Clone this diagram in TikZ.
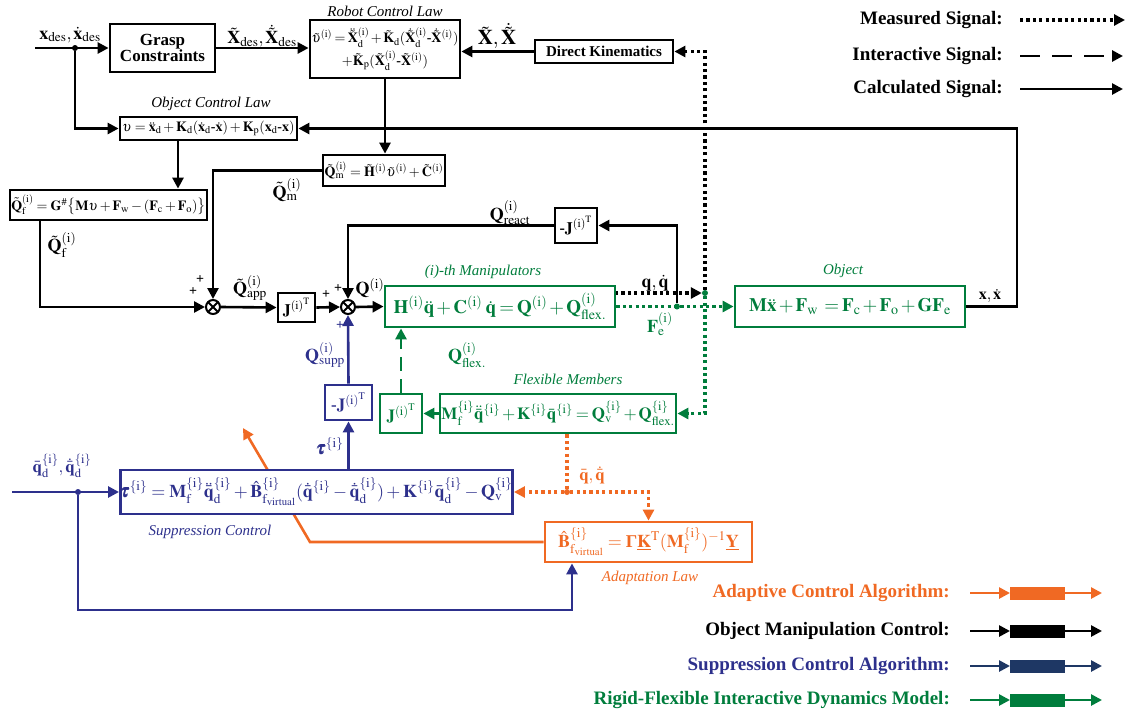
\documentclass[tikz,border=0pt]{standalone}
\usepackage{amsmath}
\usepackage{mathptmx}
\usepackage{fontspec}
\setmainfont{Liberation Serif}
\usetikzlibrary{arrows.meta,calc,backgrounds}
\definecolor{grn}{RGB}{0,125,60}
\definecolor{blu}{RGB}{45,48,140}
\definecolor{org}{RGB}{240,105,35}
\definecolor{dblu}{RGB}{30,55,100}
\newcommand{\Si}{^{(\mathrm{i})}}
\newcommand{\Ci}{^{\{\mathrm{i}\}}}
\newcommand{\B}[1]{\mathbf{#1}}
\newcommand{\JT}{\B J^{(\mathrm{i})^{\mathrm{T}}}}
\newcommand{\fs}[1]{\fontsize{#1}{#1}\selectfont}
\newcommand{\tight}{\medmuskip=2mu plus 1mu\thickmuskip=3mu plus 1mu}
\begin{document}
\begin{tikzpicture}[x=1pt,y=-1pt,
  box/.style={draw,line width=2.8pt,inner sep=1pt,font=\bfseries\fs{14},fill=white},
  ttl/.style={font=\itshape\fs{15}},
  lbl/.style={font=\bfseries\fs{16},inner sep=0pt},
  ln/.style={line width=2.6pt},
  tip/.style={-{Triangle[length=11pt,width=11pt]}},
  arr/.style={ln,tip},
  mdot/.style={line width=3.2pt,dash pattern=on 3.2pt off 3.2pt},
  sumn/.style={circle,draw,line width=2pt,minimum size=14pt,inner sep=0pt,fill=white,
    path picture={\draw[line width=1.8pt] (path picture bounding box.north west)--(path picture bounding box.south east) (path picture bounding box.north east)--(path picture bounding box.south west);}},
  jdot/.style={circle,fill,inner sep=0pt,minimum size=6pt},
  pls/.style={font=\bfseries\fs{14},inner sep=0pt},
  leg/.style={font=\bfseries\fs{19},anchor=east,inner sep=0pt}
]
\useasboundingbox (0,0) rectangle (1132,715);

% ---------- top boxes ----------
\node[box,minimum width=105pt,minimum height=48pt,align=center,font=\bfseries\fs{17}] (grasp) at (162.5,48) {Grasp\\[-1pt]Constraints};
\node[box,minimum width=150pt,minimum height=58pt,align=center] (robot) at (385,49)
 {$\tight\tilde{\upsilon}\Si=\ddot{\tilde{\B X}}\Si_{\mathrm d}+\tilde{\B K}_{\mathrm d}(\dot{\tilde{\B X}}\Si_{\mathrm d}\mbox{-}\dot{\tilde{\B X}}\Si)$\\[2pt]
  $\tight+\tilde{\B K}_{\mathrm p}(\tilde{\B X}\Si_{\mathrm d}\mbox{-}\tilde{\B X}\Si)$};
\node[ttl] at (385,11) {Robot Control Law};
\node[box,minimum width=138pt,minimum height=23pt,font=\bfseries\fs{15}] (dk) at (604,51.5) {Direct Kinematics};

\node[box,minimum width=177pt,minimum height=23pt,inner sep=0pt] (ocl) at (208.5,128.5)
 {$\upsilon=\ddot{\B x}_{\mathrm d}+\B K_{\mathrm d}(\dot{\B x}_{\mathrm d}\mbox{-}\dot{\B x})+\B K_{\mathrm p}(\B x_{\mathrm d}\mbox{-}\B x)$};
\node[ttl] at (211,104) {Object Control Law};
\node[box,minimum width=197pt,minimum height=30pt,inner sep=0pt] (qf) at (108.5,205)
 {$\tilde{\B Q}\Si_{\mathrm f}=\B G^{\#}\bigl\{\B M\upsilon+\B F_{\mathrm w}-(\B F_{\mathrm c}+\B F_{\mathrm o})\bigr\}$};
\node[box,minimum width=122pt,minimum height=31pt] (qm) at (384,170.5)
 {$\tilde{\B Q}\Si_{\mathrm m}=\tilde{\B H}\Si\tilde{\upsilon}\Si+\tilde{\B C}\Si$};

% ---------- middle ----------
\node[sumn] (s1) at (213,307) {};
\node[sumn] (s2) at (348,307) {};
\node[box,minimum width=37pt,minimum height=29pt,font=\bfseries\fs{16}] (jt) at (296.5,307.5) {$\JT$};
\node[box,draw=grn,text=grn,minimum width=230pt,minimum height=41pt,font=\bfseries\fs{19}] (manip) at (500,306.5)
 {$\tight\B H\Si\ddot{\B q}+\B C\Si\;\dot{\B q}=\B Q\Si+\B Q\Si_{\mathrm{flex.}}$};
\node[ttl,text=grn] at (483,272) {(i)-th Manipulators};
\node[box,minimum width=42pt,minimum height=35pt,font=\bfseries\fs{16}] (mjr) at (576,225.5) {$\mbox{-}\JT$};
\node[box,draw=grn,text=grn,minimum width=230pt,minimum height=41pt,font=\bfseries\fs{19}] (obj) at (850,306.5)
 {$\tight\B M\ddot{\B x}+\B F_{\mathrm w}\;=\B F_{\mathrm c}+\B F_{\mathrm o}+\B G\B F_{\mathrm e}$};
\node[ttl,text=grn] at (843,271) {Object};

\node[box,draw=grn,text=grn,minimum width=236pt,minimum height=39pt,font=\bfseries\fs{17}] (flex) at (558,413.5)
 {$\tight\B M\Ci_{\mathrm f}\ddot{\bar{\B q}}\Ci+\B K\Ci\bar{\B q}\Ci=\B Q\Ci_{\mathrm v}+\B Q\Ci_{\mathrm{flex.}}$};
\node[ttl,text=grn] at (568,379) {Flexible Members};
\node[box,draw=grn,text=grn,minimum width=42pt,minimum height=39pt,font=\bfseries\fs{17}] (jf) at (401,413.5) {$\JT$};
\node[box,draw=blu,text=blu,minimum width=47pt,minimum height=35pt,font=\bfseries\fs{17}] (mjs) at (348.5,402.5) {$\mbox{-}\JT$};

\node[box,draw=blu,text=blu,minimum width=383pt,minimum height=44pt,inner sep=0pt,font=\bfseries\fs{18}] (supp) at (316.5,492)
 {$\pmb{\tau}\Ci=\B M\Ci_{\mathrm f}\ddot{\bar{\B q}}\Ci_{\mathrm d}+\hat{\B B}\Ci_{\mathrm f_{\mathrm{virtual}}}(\dot{\bar{\B q}}\Ci-\dot{\bar{\B q}}\Ci_{\mathrm d})+\B K\Ci\bar{\B q}\Ci_{\mathrm d}-\B Q\Ci_{\mathrm v}$};
\node[ttl,text=blu] at (210,532) {Suppression Control};
\node[box,draw=org,text=org,minimum width=207pt,minimum height=40pt,font=\bfseries\fs{18}] (adapt) at (648.5,542)
 {$\hat{\B B}\Ci_{\mathrm f_{\mathrm{virtual}}}=\mbox{\bfseries Γ}\underline{\B K}^{\mathrm T}(\B M\Ci_{\mathrm f})^{-1}\underline{\B Y}$};
\node[ttl,text=org] at (650,578) {Adaptation Law};

% ---------- coordinates ----------
\coordinate (in1) at (35,48);
\node[jdot] (j1) at (75,48) {};
\coordinate (oc) at (1017,128.5);
\coordinate (mq) at (615,293);
\node[jdot,fill=grn] (d1) at (705,293) {};
\node[jdot,fill=grn] (d2) at (677,306.5) {};
\coordinate (bin) at (12,492);
\node[jdot,fill=blu] (j2) at (78,492) {};
\coordinate (bc) at (572,610);
\node[jdot,fill=org] (j3) at (567,492) {};
\coordinate (oa) at (310,542);
\coordinate (ob) at (243,428);
\coordinate (ocf) at (178,140);
\coordinate (qfo) at (40,220);

% ---------- black connectors ----------
\draw[arr] (in1) -- (grasp.west);
\draw[arr] (j1) |- (ocl.west);
\draw[arr] (grasp.east) -- (grasp.east -| robot.west);
\draw[arr] (dk.west) -- (dk.west -| robot.east);
\draw[arr] (robot.south) -- (robot.south |- qm.north);
\draw[arr] (ocf) -- (ocf |- qf.north);
\draw[arr] (qm.west) -| (s1.north);
\draw[arr] (qfo) |- (s1.west);
\draw[arr] (s1.east) -- (jt.west);
\draw[arr] (jt.east) -- (s2.west);
\draw[arr] (s2.east) -- (manip.west);
\draw[arr] (d2) |- (mjr.east);
\draw[arr] (mjr.west) -| (s2.north);
\draw[arr] (obj.east) -| (oc) -- (ocl.east);
\begin{scope}[on background layer]
\draw[mdot,-{Triangle[length=11pt,width=11pt]}] (mq) -- (d1);
\draw[mdot,-{Triangle[length=11pt,width=11pt]}] (d1) |- (dk.east);
\draw[mdot,draw=grn,-{Triangle[length=11pt,width=11pt]},grn] (manip.east) -- (obj.west);
\draw[mdot,draw=grn,-{Triangle[length=11pt,width=11pt]},grn] (d1) |- (flex.east);
\draw[org,line width=2.6pt,tip] (adapt.west) -- (oa) -- (ob);
\end{scope}

% ---------- green ----------
\draw[grn,line width=2.8pt,dash pattern=on 14pt off 8pt,tip] (jf.north) -- (jf.north |- manip.south);
\draw[grn,arr] (flex.west) -- (jf.east);

% ---------- blue ----------
\draw[blu,arr] (mjs.south |- supp.north) -- (mjs.south);
\draw[blu,arr] (mjs.north) -- (s2.south);
\draw[blu,arr] (bin) -- (supp.west);
\draw[blu,arr] (j2) |- (bc) -- (bc |- adapt.south);

% ---------- orange dotted ----------
\draw[org,mdot] (j3 |- flex.south) -- (j3);
\draw[org,mdot,-{Triangle[length=11pt,width=11pt]}] (j3) -- (supp.east);
\draw[org,mdot,-{Triangle[length=11pt,width=11pt]}] (j3) -| (adapt.north);

% ---------- labels ----------
\node[lbl,font=\bfseries\fs{18}] at (70,35) {$\B x_{\mathrm{des}},\dot{\B x}_{\mathrm{des}}$};
\node[lbl,font=\bfseries\fs{18}] at (262,36) {$\tilde{\B X}_{\mathrm{des}},\dot{\tilde{\B X}}_{\mathrm{des}}$};
\node[lbl,font=\bfseries\fs{21}] at (497,36) {$\tilde{\B X},\dot{\tilde{\B X}}$};
\node[lbl,font=\bfseries\fs{18}] at (287,190) {$\tilde{\B Q}\Si_{\mathrm m}$};
\node[lbl,font=\bfseries\fs{18}] at (62,245) {$\tilde{\B Q}\Si_{\mathrm f}$};
\node[lbl,font=\bfseries\fs{18}] at (250,288) {$\tilde{\B Q}\Si_{\mathrm{app}}$};
\node[lbl,font=\bfseries\fs{18}] at (370,288) {$\B Q\Si$};
\node[lbl,font=\bfseries\fs{18}] at (510,213) {$\B Q\Si_{\mathrm{react}}$};
\node[lbl,font=\bfseries\fs{18}] at (655,283) {$\B q,\dot{\B q}$};
\node[lbl,font=\bfseries\fs{18},text=grn] at (660,324) {$\B F\Si_{\mathrm e}$};
\node[lbl,font=\bfseries\fs{16}] at (990,296) {$\B x,\dot{\B x}$};
\node[lbl,font=\bfseries\fs{18},text=grn] at (467,355) {$\B Q\Si_{\mathrm{flex.}}$};
\node[lbl,font=\bfseries\fs{18},text=blu] at (325,355) {$\B Q\Si_{\mathrm{supp}}$};
\node[lbl,font=\bfseries\fs{18},text=blu] at (330,446) {$\pmb{\tau}\Ci$};
\node[lbl,font=\bfseries\fs{17},text=blu] at (62,466) {$\bar{\B q}\Ci_{\mathrm d},\dot{\bar{\B q}}\Ci_{\mathrm d}$};
\node[lbl,font=\bfseries\fs{17},text=org] at (592,475) {$\bar{\B q},\dot{\bar{\B q}}$};
\node[pls] at (200,280) {+};
\node[pls] at (193,292) {+};
\node[pls] at (338,289) {+};
\node[pls] at (326,295) {+};
\node[pls,text=blu] at (340,326) {+};

% ---------- legend top ----------
\node[leg] (lm) at (1003,20) {Measured Signal:};
\node[leg] (li) at (1003,56) {Interactive Signal:};
\node[leg] (lc) at (1003,89) {Calculated Signal:};
\coordinate (lm1) at (1020,20); \coordinate (lm2) at (1125,20);
\coordinate (li1) at (1020,56); \coordinate (li2) at (1123,56);
\coordinate (lc1) at (1020,89); \coordinate (lc2) at (1123,89);
\draw[mdot,-{Triangle[length=11pt,width=11pt]}] (lm1) -- (lm2);
\draw[line width=2.8pt,dash pattern=on 20pt off 12pt,tip] (li1) -- (li2);
\draw[arr] (lc1) -- (lc2);

% ---------- legend bottom ----------
\node[leg,text=org] at (950,593) {Adaptive Control Algorithm:};
\node[leg] at (950,631) {Object Manipulation Control:};
\node[leg,text=blu] at (950,666) {Suppression Control Algorithm:};
\node[leg,text=grn] at (950,700) {Rigid-Flexible Interactive Dynamics Model:};
\foreach \yy/\cc in {593/org,631/black,666/dblu,700/grn}{
  \coordinate (a1) at (970,\yy); \coordinate (a2) at (1010,\yy);
  \coordinate (a3) at (1065,\yy); \coordinate (a4) at (1102,\yy);
  \draw[\cc,arr] (a1) -- (a2);
  \fill[\cc] (1010,\yy-6.5) rectangle (1065,\yy+6.5);
  \draw[\cc,arr] (a3) -- (a4);
}
\end{tikzpicture}
\end{document}
